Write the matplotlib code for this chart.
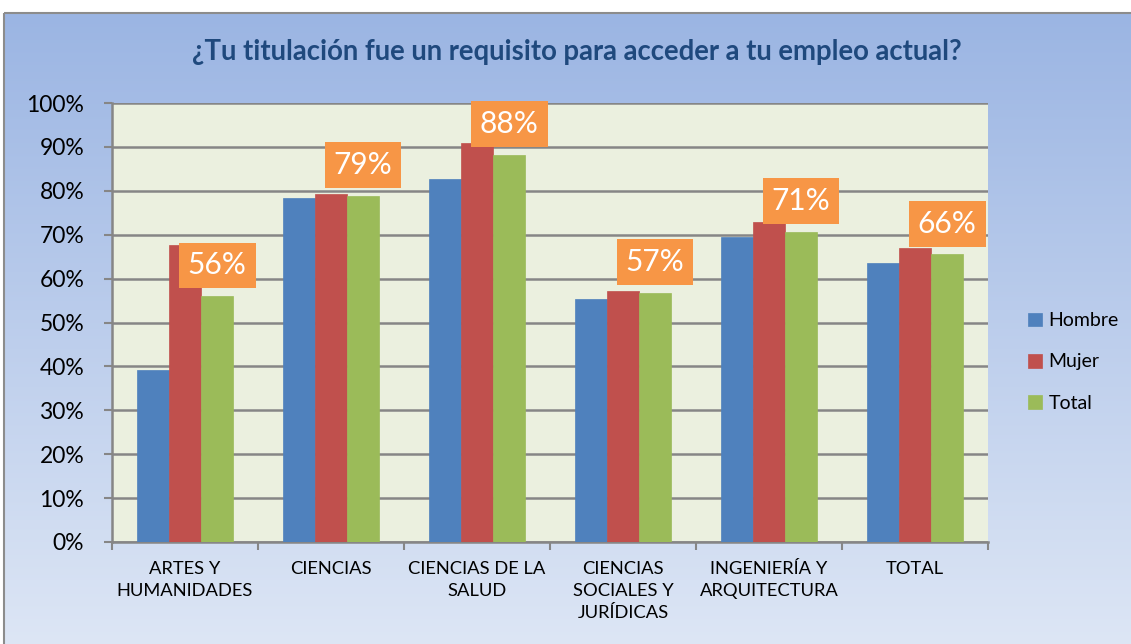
import numpy as np
import matplotlib
matplotlib.use("Agg")
import matplotlib.pyplot as plt
from matplotlib.patches import Rectangle
from matplotlib.colors import LinearSegmentedColormap

categories = ["ARTES Y\nHUMANIDADES", "CIENCIAS", "CIENCIAS DE LA\nSALUD",
              "CIENCIAS\nSOCIALES Y\nJURÍDICAS", "INGENIERÍA Y\nARQUITECTURA", "TOTAL"]
hombre = [39.2, 78.4, 82.6, 55.4, 69.4, 63.5]
mujer = [67.6, 79.2, 90.9, 57.2, 72.8, 67.0]
total = [56.0, 78.8, 88.2, 56.7, 70.6, 65.5]
series_names = ["Hombre", "Mujer", "Total"]
title = "¿Tu titulación fue un requisito para acceder a tu empleo actual?"
yticks = list(range(0, 101, 10))

plt.rcParams['font.family'] = ['Lato', 'DejaVu Sans']

W, H = 1131, 644
fig = plt.figure(figsize=(W/100, H/100), dpi=100)

# background gradient
bg = fig.add_axes([0, 0, 1, 1], zorder=0)
bg.set_xlim(0, W); bg.set_ylim(H, 0); bg.axis('off')
cmap = LinearSegmentedColormap.from_list('g', ['#9BB5E3', '#DDE6F5'])
grad = np.linspace(0, 1, 256).reshape(-1, 1)
bg.imshow(grad, cmap=cmap, extent=[4, W + 2, H + 2, 13], aspect='auto')
bg.add_patch(Rectangle((4, 13), W, H, fill=False, edgecolor='#8C8C8C', lw=1.5))
bg.text(577, 52, title, ha='center', va='center', fontsize=19.8, fontweight='bold',
        color='#1F497D')

# plot area
l, r, t, b = 112, 988, 103, 542
ax = fig.add_axes([l/W, 1 - b/H, (r-l)/W, (b-t)/H], zorder=1)
ax.set_facecolor('#EBF0DF')
x = np.arange(len(categories))
w = 0.22
colors = ['#4F81BD', '#C0504D', '#9BBB59']
for i, (vals, c, n) in enumerate(zip([hombre, mujer, total], colors, series_names)):
    ax.bar(x + (i - 1) * w, vals, width=w, color=c, label=n, zorder=3,
           edgecolor=c, linewidth=0.5)

for xi, v in zip(x, total):
    ax.annotate(f"{round(v):d}%", xy=(xi + w, v), xytext=(0, 12),
                textcoords='offset points', ha='center', va='bottom',
                fontsize=21.5, color='white', zorder=5,
                bbox=dict(boxstyle='square,pad=0.3', fc='#F79646', ec='none'))

ax.set_xlim(-0.5, len(categories) - 0.5)
ax.set_ylim(0, 100)
ax.set_yticks(yticks)
ax.set_yticklabels([f"{v}%" for v in yticks], fontsize=16.5, color='black')
ax.yaxis.grid(True, color='#868686', lw=1.8, zorder=1)
ax.set_axisbelow(True)
ax.set_xticks(np.arange(len(categories) + 1) - 0.5, minor=False)
ax.set_xticklabels([])
ax.set_xticks(x, minor=True)
ax.set_xticklabels(categories, minor=True, fontsize=13.2, linespacing=1.45, va='top')
ax.tick_params(axis='x', which='minor', length=0, pad=14)
ax.tick_params(axis='x', which='major', length=6, color='#868686', width=1.5)
ax.tick_params(axis='y', length=6, color='#868686', width=1.5, pad=14)
for s in ['top', 'right']:
    ax.spines[s].set_visible(False)
for s in ['left', 'bottom']:
    ax.spines[s].set_color('#868686')
    ax.spines[s].set_linewidth(1.8)

leg = fig.legend(loc='center left', bbox_to_anchor=(1028/W, 1 - 362/H), frameon=False,
                 fontsize=14, handlelength=0.7, handleheight=0.7, handletextpad=0.35,
                 labelspacing=1.25, borderpad=0, borderaxespad=0)

fig.savefig('out.png', dpi=100)
